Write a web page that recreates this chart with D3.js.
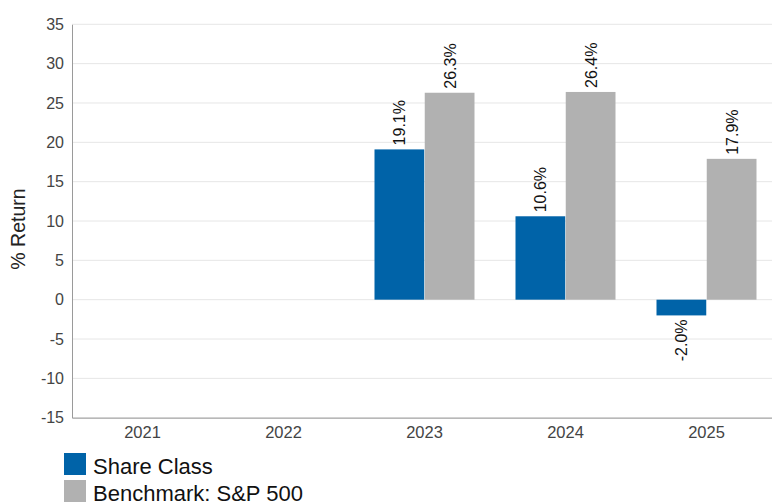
<!DOCTYPE html>
<html><head><meta charset="utf-8">
<script src="https://cdn.jsdelivr.net/npm/d3@7"></script>
<style>body{margin:0;background:#fff;}svg{display:block;font-family:"Liberation Sans",Arial,sans-serif;}</style>
</head><body>
<svg id="c" width="772" height="503"></svg>
<script>
const categories = ["2021","2022","2023","2024","2025"];
const shareClass = [null, null, 19.1, 10.6, -2.0];
const benchmark = [null, null, 26.3, 26.4, 17.9];
const seriesNames = ["Share Class","Benchmark: S&P 500"];
const seriesColors = ["#0063a8","#b1b1b1"];
const yTicks = [-15,-10,-5,0,5,10,15,20,25,30,35];

d3.formatDefaultLocale({decimal: ".", thousands: ",", grouping: [3], currency: ["$", ""], minus: "-"});

const svg = d3.select("#c");
const L = 72, R = 777, T = 24.3, B = 417.7;
const x = d3.scaleBand().domain(categories).range([L, R]).paddingInner(0).paddingOuter(0);
const inner = d3.scaleBand().domain([0,1]).range([0, 100]).paddingInner(0.01);
const groupOffset = (x.bandwidth() - 100) / 2;
const y = d3.scaleLinear().domain([-15, 35]).range([B, T]);

// gridlines
svg.append("g").selectAll("line").data(yTicks).join("line")
  .attr("x1", L).attr("x2", 772).attr("y1", d => y(d)).attr("y2", d => y(d))
  .attr("stroke", "#e6e6e6").attr("stroke-width", 1);

// y axis
const ya = svg.append("g").attr("transform", `translate(${L},0)`)
  .call(d3.axisLeft(y).tickValues(yTicks).tickFormat(d3.format("d")).tickSize(0).tickPadding(8));
ya.select(".domain").attr("stroke", "#9a9a9a");
ya.selectAll("text").attr("font-size", 16).attr("fill", "#444").attr("font-family", "Liberation Sans, Arial, sans-serif");

// x axis
const xa = svg.append("g").attr("transform", `translate(0,${B})`)
  .call(d3.axisBottom(x).tickSize(0).tickPadding(9));
xa.select(".domain").attr("stroke", "#9a9a9a");
xa.selectAll("text").attr("font-size", 16.5).attr("fill", "#444").attr("font-family", "Liberation Sans, Arial, sans-serif");

// y title
svg.append("text").attr("transform", `translate(25,229) rotate(-90)`)
  .attr("text-anchor", "middle").attr("font-size", 19.5).attr("fill", "#222").text("% Return");

const fmt = d3.format(".1f");
const series = [shareClass, benchmark];
series.forEach((vals, si) => {
  const data = categories.map((c, i) => ({c, v: vals[i]})).filter(d => d.v !== null);
  const g = svg.append("g");
  g.selectAll("rect").data(data).join("rect")
    .attr("x", d => x(d.c) + groupOffset + inner(si))
    .attr("width", inner.bandwidth())
    .attr("y", d => y(Math.max(0, d.v)))
    .attr("height", d => Math.abs(y(d.v) - y(0)))
    .attr("fill", seriesColors[si]);
  g.selectAll("text").data(data).join("text")
    .attr("transform", d => {
      const cx = x(d.c) + groupOffset + inner(si) + inner.bandwidth()/2;
      const yy = d.v >= 0 ? y(d.v) - 4 : y(d.v) + 4;
      return `translate(${cx + 6},${yy}) rotate(-90)`;
    })
    .attr("text-anchor", d => d.v >= 0 ? "start" : "end")
    .attr("font-size", 16).attr("fill", "#111")
    .text(d => fmt(d.v) + "%");
});

// legend
const lg = svg.append("g");
seriesNames.forEach((n, i) => {
  lg.append("rect").attr("x", 64).attr("y", 453 + i*27).attr("width", 22).attr("height", 22).attr("fill", seriesColors[i]);
  lg.append("text").attr("x", 93).attr("y", 474 + i*27).attr("font-size", 22).attr("fill", "#111").text(n);
});
</script>
</body></html>
